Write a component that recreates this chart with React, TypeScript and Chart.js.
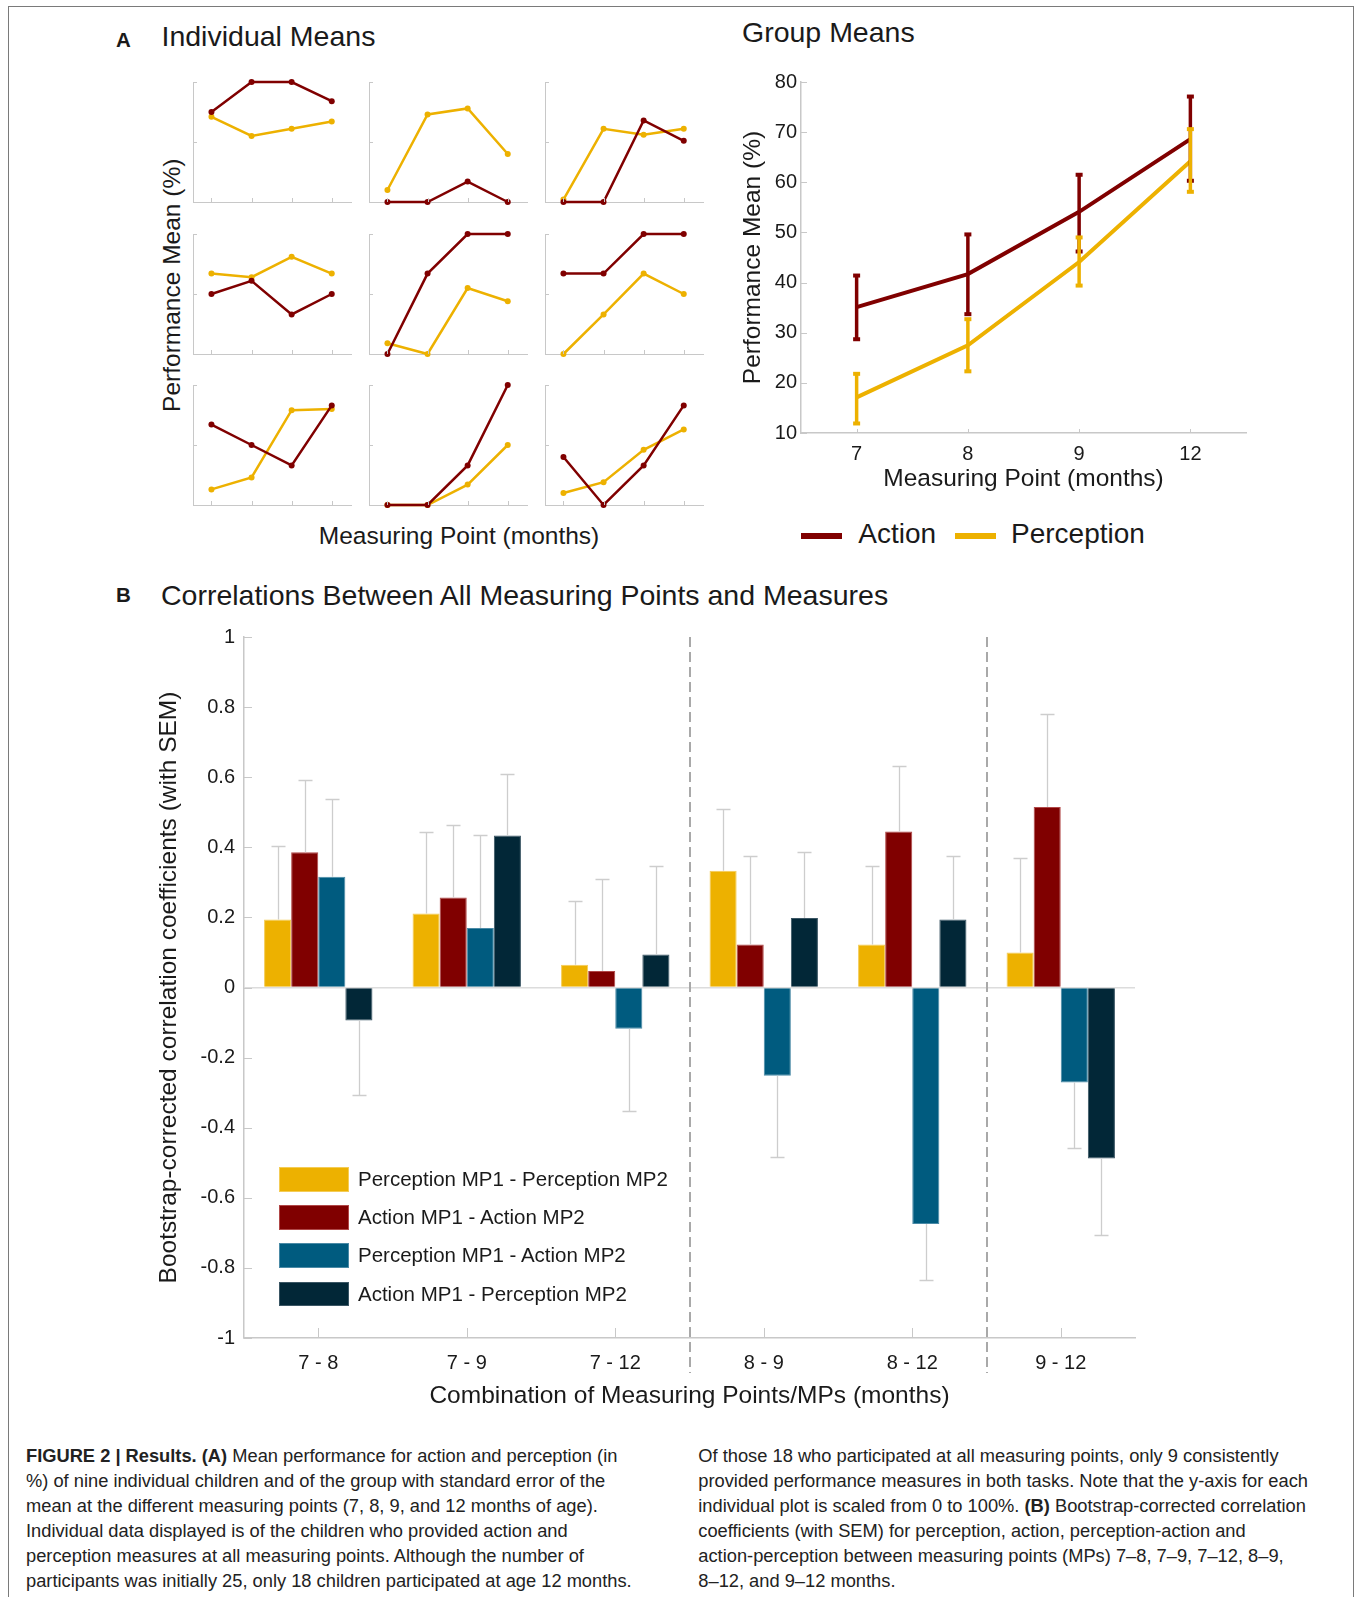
import React, { useEffect, useRef } from "react";
import { Chart, registerables } from "chart.js";

Chart.register(...registerables);

const FONT = "'Liberation Sans', Arial, Helvetica, sans-serif";
Chart.defaults.font.family = FONT;
Chart.defaults.color = "#1a1a1a";

if (typeof document !== "undefined") {
  document.body.style.margin = "0";
  document.documentElement.style.overflow = "hidden";
}

// ---------------- data ----------------
const MONTH_LABELS = ["7", "8", "9", "12"];
const MEASURING_POINTS = [1, 2, 3, 4];

// Individual children (panels in reading order), performance mean in %
const CHILD_ACTION = [
  [75, 100, 100, 84],
  [0, 0, 17, 0],
  [0, 0, 68, 51],
  [50, 61, 33, 50],
  [0, 67, 100, 100],
  [67, 67, 100, 100],
  [67, 50, 33, 83],
  [0, 0, 33, 100],
  [40, 0, 33, 83],
];
const CHILD_PERCEPTION = [
  [71, 55, 61, 67],
  [10, 73, 78, 40],
  [2, 61, 56, 61],
  [67, 64, 81, 67],
  [9, 0, 55, 44],
  [0, 33, 67, 50],
  [13, 23, 79, 80],
  [0, 0, 17, 50],
  [10, 19, 46, 63],
];

// Group means with SEM bounds
const GROUP_ACTION_MEAN = [35.1, 41.7, 54.1, 68.6];
const GROUP_ACTION_LOW = [28.7, 33.7, 46.2, 60.3];
const GROUP_ACTION_HIGH = [41.4, 49.6, 61.5, 77.1];
const GROUP_PERCEPTION_MEAN = [17.1, 27.5, 44.1, 64.2];
const GROUP_PERCEPTION_LOW = [11.9, 22.3, 39.4, 58.1];
const GROUP_PERCEPTION_HIGH = [21.8, 32.7, 49.0, 70.6];

// Panel B: bootstrap-corrected correlations and SEM end points
const PAIRS = ["7 - 8", "7 - 9", "7 - 12", "8 - 9", "8 - 12", "9 - 12"];
const PERC_PERC = [0.194, 0.211, 0.065, 0.333, 0.123, 0.1];
const PERC_PERC_SEM_END = [0.405, 0.445, 0.247, 0.509, 0.346, 0.369];
const ACT_ACT = [0.386, 0.257, 0.047, 0.123, 0.445, 0.515];
const ACT_ACT_SEM_END = [0.592, 0.463, 0.31, 0.375, 0.632, 0.78];
const PERC_ACT = [0.316, 0.17, -0.118, -0.252, -0.675, -0.271];
const PERC_ACT_SEM_END = [0.539, 0.434, -0.353, -0.483, -0.834, -0.459];
const ACT_PERC = [-0.094, 0.434, 0.094, 0.198, 0.194, -0.488];
const ACT_PERC_SEM_END = [-0.306, 0.609, 0.346, 0.387, 0.375, -0.705];

const SERIES_B_LABELS = [
  "Perception MP1 - Perception MP2",
  "Action MP1 - Action MP2",
  "Perception MP1 - Action MP2",
  "Action MP1 - Perception MP2",
];

// ---------------- styles ----------------
const ACTION_COLOR = "#800000";
const PERCEPTION_COLOR = "#EDB100";
const BLUE = "#005B7F";
const NAVY = "#022737";
const B_COLORS = [PERCEPTION_COLOR, ACTION_COLOR, BLUE, NAVY];
const B_EDGES = ["#f4cc55", "#b04848", "#4a8aa6", "#3b5664"];
const AXIS_COLOR = "#c8c8c8";

// ---------------- plugins ----------------
const inwardTicks = {
  id: "inwardTicks",
  afterDraw(chart: any, _a: any, opts: any) {
    const { ctx, chartArea, scales } = chart;
    ctx.save();
    ctx.strokeStyle = opts.color || AXIS_COLOR;
    ctx.lineWidth = 1;
    if (opts.xLen) {
      const xs = scales.x;
      const vals: number[] = opts.xValues || xs.ticks.map((t: any) => t.value);
      vals.forEach((v) => {
        const px = Math.round(xs.getPixelForValue(v)) + 0.5;
        ctx.beginPath();
        ctx.moveTo(px, chartArea.bottom);
        ctx.lineTo(px, chartArea.bottom - opts.xLen);
        ctx.stroke();
      });
    }
    if (opts.yLen) {
      const ys = scales.y;
      ys.ticks.forEach((t: any) => {
        const py = Math.round(ys.getPixelForValue(t.value)) + 0.5;
        ctx.beginPath();
        ctx.moveTo(chartArea.left, py);
        ctx.lineTo(chartArea.left + opts.yLen, py);
        ctx.stroke();
      });
    }
    ctx.restore();
  },
};

const groupErrorBars = {
  id: "groupErrorBars",
  afterDatasetsDraw(chart: any, _a: any, opts: any) {
    const { ctx } = chart;
    const ys = chart.scales.y;
    ctx.save();
    opts.lows.forEach((lows: number[], i: number) => {
      const highs = opts.highs[i];
      const color = chart.data.datasets[i].borderColor;
      const meta = chart.getDatasetMeta(i);
      meta.data.forEach((pt: any, j: number) => {
        const x = pt.x;
        const yl = ys.getPixelForValue(lows[j]);
        const yh = ys.getPixelForValue(highs[j]);
        ctx.strokeStyle = color;
        ctx.fillStyle = color;
        ctx.lineWidth = 3.5;
        ctx.beginPath();
        ctx.moveTo(x, yl);
        ctx.lineTo(x, yh);
        ctx.stroke();
        ctx.fillRect(x - 3.5, yl - 2, 7, 4);
        ctx.fillRect(x - 3.5, yh - 2, 7, 4);
      });
    });
    ctx.restore();
  },
};

const corrErrorBars = {
  id: "corrErrorBars",
  afterDatasetsDraw(chart: any, _a: any, opts: any) {
    const { ctx } = chart;
    const ys = chart.scales.y;
    ctx.save();
    ctx.strokeStyle = "#cdcdcd";
    ctx.lineWidth = 1.3;
    opts.ends.forEach((ends: number[], i: number) => {
      const meta = chart.getDatasetMeta(i);
      const vals = chart.data.datasets[i].data;
      meta.data.forEach((bar: any, j: number) => {
        const x = Math.round(bar.x) + 0.5;
        const y0 = ys.getPixelForValue(vals[j]);
        const y1 = Math.round(ys.getPixelForValue(ends[j])) + 0.5;
        ctx.beginPath();
        ctx.moveTo(x, y0);
        ctx.lineTo(x, y1);
        ctx.moveTo(x - 7, y1);
        ctx.lineTo(x + 7, y1);
        ctx.stroke();
      });
    });
    ctx.restore();
  },
};

const separators = {
  id: "separators",
  beforeDatasetsDraw(chart: any, _a: any, opts: any) {
    const { ctx, chartArea } = chart;
    const xs = chart.scales.x;
    ctx.save();
    ctx.strokeStyle = "#a9a9a9";
    ctx.lineWidth = 2;
    ctx.setLineDash([10, 5]);
    opts.at.forEach((v: number) => {
      const x = Math.round(xs.getPixelForValue(v));
      ctx.beginPath();
      ctx.moveTo(x, chartArea.top);
      ctx.lineTo(x, chartArea.bottom + opts.extend);
      ctx.stroke();
    });
    ctx.restore();
  },
};

// ---------------- chart configs ----------------
function smallConfig(k: number): any {
  return {
    type: "line",
    data: {
      datasets: [
        {
          label: "Action",
          data: MEASURING_POINTS.map((x, i) => ({ x, y: CHILD_ACTION[k][i] })),
          borderColor: ACTION_COLOR,
          backgroundColor: ACTION_COLOR,
          borderWidth: 2.5,
          pointRadius: 3,
          pointBorderWidth: 0,
          clip: false,
        },
        {
          label: "Perception",
          data: MEASURING_POINTS.map((x, i) => ({ x, y: CHILD_PERCEPTION[k][i] })),
          borderColor: PERCEPTION_COLOR,
          backgroundColor: PERCEPTION_COLOR,
          borderWidth: 2.5,
          pointRadius: 3,
          pointBorderWidth: 0,
          clip: false,
        },
      ],
    },
    options: {
      responsive: false,
      animation: false,
      events: [],
      layout: { padding: 6 },
      plugins: {
        legend: { display: false },
        tooltip: { enabled: false },
        inwardTicks: { xValues: MEASURING_POINTS, xLen: 4, yLen: 4 },
      },
      scales: {
        x: {
          type: "linear",
          min: 0.54,
          max: 4.48,
          ticks: { display: false },
          grid: { drawOnChartArea: false, drawTicks: false },
          border: { color: AXIS_COLOR, width: 1 },
          afterFit: (s: any) => {
            s.height = 0;
          },
        },
        y: {
          min: 0,
          max: 100,
          ticks: { display: false, stepSize: 50 },
          grid: { drawOnChartArea: false, drawTicks: false },
          border: { color: AXIS_COLOR, width: 1 },
          afterFit: (s: any) => {
            s.width = 0;
          },
        },
      },
    },
    plugins: [inwardTicks],
  };
}

function groupConfig(): any {
  return {
    type: "line",
    data: {
      labels: MONTH_LABELS,
      datasets: [
        {
          label: "Action",
          data: GROUP_ACTION_MEAN,
          borderColor: ACTION_COLOR,
          backgroundColor: ACTION_COLOR,
          borderWidth: 4,
          pointRadius: 0,
        },
        {
          label: "Perception",
          data: GROUP_PERCEPTION_MEAN,
          borderColor: PERCEPTION_COLOR,
          backgroundColor: PERCEPTION_COLOR,
          borderWidth: 4,
          pointRadius: 0,
        },
      ],
    },
    options: {
      responsive: false,
      animation: false,
      events: [],
      layout: { padding: { left: 0, top: 22, right: 24, bottom: 0 } },
      plugins: {
        legend: { display: false },
        tooltip: { enabled: false },
        groupErrorBars: {
          lows: [GROUP_ACTION_LOW, GROUP_PERCEPTION_LOW],
          highs: [GROUP_ACTION_HIGH, GROUP_PERCEPTION_HIGH],
        },
        inwardTicks: { yLen: 6, xLen: 4 },
      },
      scales: {
        x: {
          type: "category",
          offset: true,
          grid: { drawOnChartArea: false, drawTicks: false },
          border: { color: AXIS_COLOR, width: 1.5 },
          ticks: { padding: 9, font: { size: 20 } },
          title: {
            display: true,
            text: "Measuring Point (months)",
            font: { size: 24.5 },
            padding: { top: 0, bottom: 16 },
          },
          afterFit: (s: any) => {
            s.height = 77;
          },
        },
        y: {
          min: 10,
          max: 80,
          ticks: { stepSize: 10, padding: 4, font: { size: 20 } },
          grid: { drawOnChartArea: false, drawTicks: false },
          border: { color: AXIS_COLOR, width: 1.5 },
          title: {
            display: true,
            text: "Performance Mean (%)",
            font: { size: 24.5 },
            padding: { top: 19, bottom: 0 },
          },
          afterFit: (s: any) => {
            s.width = 81;
          },
        },
      },
    },
    plugins: [groupErrorBars, inwardTicks],
  };
}

function corrConfig(): any {
  const values = [PERC_PERC, ACT_ACT, PERC_ACT, ACT_PERC];
  return {
    type: "bar",
    data: {
      labels: PAIRS,
      datasets: values.map((v, i) => ({
        label: SERIES_B_LABELS[i],
        data: v,
        backgroundColor: B_COLORS[i],
        borderColor: B_EDGES[i],
        borderWidth: 1,
        categoryPercentage: 0.73,
        barPercentage: 1,
      })),
    },
    options: {
      responsive: false,
      animation: false,
      events: [],
      layout: { padding: { left: 0, top: 22, right: 15, bottom: 0 } },
      plugins: {
        legend: { display: false },
        tooltip: { enabled: false },
        corrErrorBars: {
          ends: [PERC_PERC_SEM_END, ACT_ACT_SEM_END, PERC_ACT_SEM_END, ACT_PERC_SEM_END],
        },
        separators: { at: [2.5, 4.5], extend: 35 },
        inwardTicks: { xLen: 10, yLen: 8 },
      },
      scales: {
        x: {
          grid: { drawOnChartArea: false, drawTicks: false },
          border: { color: AXIS_COLOR, width: 1.5 },
          ticks: { padding: 13, font: { size: 20 } },
          title: {
            display: true,
            text: "Combination of Measuring Points/MPs (months)",
            font: { size: 24.5 },
            padding: { top: 0, bottom: 12 },
          },
          afterFit: (s: any) => {
            s.height = 85;
          },
        },
        y: {
          min: -1,
          max: 1,
          ticks: {
            stepSize: 0.2,
            padding: 9,
            font: { size: 20 },
            callback: (v: any) => {
              const r = Math.round(Number(v) * 10) / 10;
              return r === 0 ? "0" : String(r);
            },
          },
          grid: {
            drawOnChartArea: true,
            drawTicks: false,
            lineWidth: 1.5,
            color: (c: any) =>
              c.tick && Math.abs(c.tick.value) < 1e-9 ? "#dcdcdc" : "rgba(0,0,0,0)",
          },
          border: { color: AXIS_COLOR, width: 1.5 },
          title: {
            display: true,
            text: "Bootstrap-corrected correlation coefficients (with SEM)",
            font: { size: 24.5 },
            padding: { top: 15, bottom: 0 },
          },
          afterFit: (s: any) => {
            s.width = 104;
          },
        },
      },
    },
    plugins: [separators, corrErrorBars, inwardTicks],
  };
}

// ---------------- components ----------------
function ChartCanvas(props: { make: () => any; left: number; top: number; width: number; height: number }) {
  const ref = useRef<HTMLCanvasElement | null>(null);
  useEffect(() => {
    if (!ref.current) return;
    const chart = new Chart(ref.current, props.make());
    return () => chart.destroy();
  }, []);
  return (
    <canvas
      ref={ref}
      width={props.width}
      height={props.height}
      style={{
        position: "absolute",
        left: props.left,
        top: props.top,
        width: props.width,
        height: props.height,
        display: "block",
      }}
    />
  );
}

const TEXT_COLOR = "#1a1a1a";

function Txt(props: { x: number; y: number; size: number; bold?: boolean; children: any }) {
  return (
    <div
      style={{
        position: "absolute",
        left: props.x,
        top: props.y,
        fontSize: props.size,
        lineHeight: 1,
        fontWeight: props.bold ? 700 : 400,
        whiteSpace: "nowrap",
        color: TEXT_COLOR,
      }}
    >
      {props.children}
    </div>
  );
}

function RotatedTitle(props: { cx: number; cy: number; size: number; text: string }) {
  const w = 700;
  return (
    <div
      style={{
        position: "absolute",
        left: props.cx - w / 2,
        top: props.cy - props.size / 2,
        width: w,
        height: props.size,
        lineHeight: `${props.size}px`,
        fontSize: props.size,
        textAlign: "center",
        whiteSpace: "nowrap",
        transform: "rotate(-90deg)",
        transformOrigin: "50% 50%",
        color: TEXT_COLOR,
      }}
    >
      {props.text}
    </div>
  );
}

const SMALL_COLS = [193, 369, 545];
const SMALL_ROWS = [82, 234, 385];

const CAPTION_LEFT = [
  <>
    <b>FIGURE 2 | Results. (A)</b> Mean performance for action and perception (in
  </>,
  <>%) of nine individual children and of the group with standard error of the</>,
  <>mean at the different measuring points (7, 8, 9, and 12 months of age).</>,
  <>Individual data displayed is of the children who provided action and</>,
  <>perception measures at all measuring points. Although the number of</>,
  <>participants was initially 25, only 18 children participated at age 12 months.</>,
];
const CAPTION_RIGHT = [
  <>Of those 18 who participated at all measuring points, only 9 consistently</>,
  <>provided performance measures in both tasks. Note that the y-axis for each</>,
  <>
    individual plot is scaled from 0 to 100%. <b>(B)</b> Bootstrap-corrected correlation
  </>,
  <>coefficients (with SEM) for perception, action, perception-action and</>,
  <>action-perception between measuring points (MPs) 7–8, 7–9, 7–12, 8–9,</>,
  <>8–12, and 9–12 months.</>,
];

function Caption(props: { x: number; lines: any[] }) {
  return (
    <div
      style={{
        position: "absolute",
        left: props.x,
        top: 1443,
        fontSize: 18.3,
        lineHeight: "25px",
        color: "#222",
        whiteSpace: "nowrap",
      }}
    >
      {props.lines.map((l, i) => (
        <div key={i}>{l}</div>
      ))}
    </div>
  );
}

export default function App() {
  const smallPanels: any[] = [];
  for (let r = 0; r < 3; r++) {
    for (let c = 0; c < 3; c++) {
      const k = r * 3 + c;
      smallPanels.push(
        <ChartCanvas
          key={k}
          make={() => smallConfig(k)}
          left={SMALL_COLS[c] - 6}
          top={SMALL_ROWS[r] - 6}
          width={158 + 12}
          height={120 + 12}
        />
      );
    }
  }

  const legendRowsTop = [1167, 1205, 1243, 1281.5];

  return (
    <div
      style={{
        position: "relative",
        width: 1356,
        height: 1597,
        overflow: "hidden",
        background: "#fff",
        fontFamily: FONT,
      }}
    >
      {/* frame */}
      <div
        style={{
          position: "absolute",
          left: 8,
          top: 6,
          width: 1346,
          height: 1600,
          border: "1.5px solid #7a7a7a",
          borderBottom: "none",
          boxSizing: "border-box",
        }}
      />

      {/* Panel A titles */}
      <Txt x={116} y={40.5 - 0.4885 * 20.5} size={20.5} bold>
        A
      </Txt>
      <Txt x={161.5} y={21.9} size={28.5}>
        Individual Means
      </Txt>
      <Txt x={742} y={17.6} size={28.5}>
        Group Means
      </Txt>

      {smallPanels}
      <RotatedTitle cx={172} cy={285.5} size={24.5} text="Performance Mean (%)" />
      <div
        style={{
          position: "absolute",
          left: 459 - 200,
          top: 535.7 - 0.4885 * 24.5,
          width: 400,
          textAlign: "center",
          fontSize: 24.5,
          lineHeight: 1,
          whiteSpace: "nowrap",
          color: TEXT_COLOR,
        }}
      >
        Measuring Point (months)
      </div>

      <ChartCanvas make={groupConfig} left={720} top={60} width={550} height={450} />

      {/* Group legend */}
      <div style={{ position: "absolute", left: 801, top: 533, width: 41, height: 6, background: ACTION_COLOR }} />
      <Txt x={858.3} y={520.3} size={28}>
        Action
      </Txt>
      <div style={{ position: "absolute", left: 955, top: 533, width: 41, height: 6, background: PERCEPTION_COLOR }} />
      <Txt x={1011} y={520.3} size={28}>
        Perception
      </Txt>

      {/* Panel B */}
      <Txt x={116} y={595.5 - 0.4885 * 20.5} size={20.5} bold>
        B
      </Txt>
      <Txt x={161} y={595 - 0.4885 * 28.5} size={28.5}>
        Correlations Between All Measuring Points and Measures
      </Txt>

      <ChartCanvas make={corrConfig} left={140} top={615} width={1010} height={808} />

      {/* Panel B legend */}
      {SERIES_B_LABELS.map((lab, i) => (
        <div
          key={lab}
          style={{
            position: "absolute",
            left: 278.5,
            top: legendRowsTop[i],
            height: 24.5,
            display: "flex",
            alignItems: "center",
          }}
        >
          <div
            style={{
              width: 70,
              height: 24.5,
              background: B_COLORS[i],
              border: `1px solid ${B_EDGES[i]}`,
              boxSizing: "border-box",
            }}
          />
          <div
            style={{
              marginLeft: 9.5,
              fontSize: 20.5,
              lineHeight: 1,
              whiteSpace: "nowrap",
              color: TEXT_COLOR,
            }}
          >
            {lab}
          </div>
        </div>
      ))}

      <Caption x={26} lines={CAPTION_LEFT} />
      <Caption x={698.3} lines={CAPTION_RIGHT} />
    </div>
  );
}
